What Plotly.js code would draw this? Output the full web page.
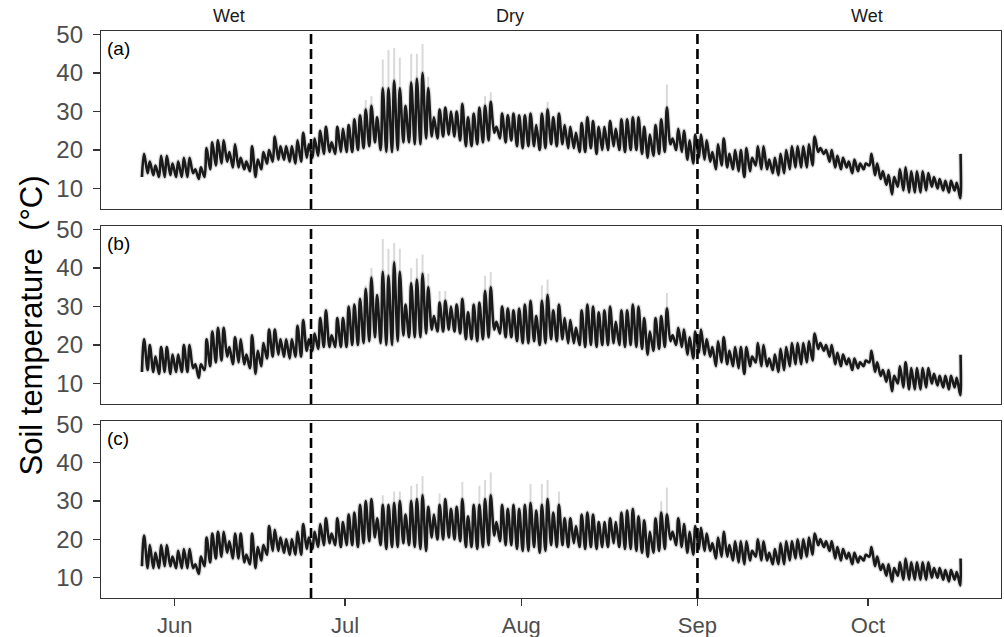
<!DOCTYPE html>
<html><head><meta charset="utf-8">
<script src="https://cdn.plot.ly/plotly-3.0.1.min.js"></script>
<style>html,body{margin:0;padding:0;background:#fff}#chart{width:1004px;height:637px}</style>
</head><body><div id="chart"></div>
<script>
// Daily maxima / minima of soil temperature (°C), day 0 = 26 May
const hiA = [19,17,16,18.5,18.5,16.5,17,18,18,15, 15.5,20.5,22,22.5,22.5,19.5,21.5,18,17,21, 17.5,19.5,20,23.5,21,21,21,22.5,24.5,21.5,
 23,25,26,22,26,25.5,26.5,28,29,30.5, 31.5,28.5,36,36,38,36,31.5,37.5,38.5,40, 36,28.5,30.5,31,30,30,32,28.5,29.5,31,
 31.5,32.5,26,29.5,29,29.5,29,29,29.5,26.5, 29.5,30.5,28.5,29.5,26.5,26,24.5,27,28.5,27.5, 26,26,27.5,25.5,28,28,28.5,28.5,26,24,
 26.5,28,31,23,25.5,25,22.5,24,24,22.5, 19.5,21.5,23,19,20,20,20.5,18,21,21, 17.5,18,19,20,21,21,21,21.5,23.5,20.5,
 20,20,18.5,18,17,17.5,16.5,16.5,19,16.5, 14.5,13.5,13,15,15.5,14.5,14.5,14.5,14,13, 12.5,12,12,11.5];
const loA = [13,14,13.5,13,13,13.5,13,13,13,14, 12.5,13,15,16,16.5,17,15.5,15.5,15,14.5, 13,15,16.5,17,17.5,17.5,17,16.5,17,18,
 18,18.5,19,19.5,19,19.5,19.5,19.5,20,20.5, 21,22,20,19.5,19.5,20,22,22,21.5,21.5, 23,23.5,23,23.5,24,23.5,22.5,21,21,21.5,
 22,22.5,24.5,23,22,22.5,21,20.5,21,21, 20,20.5,21.5,21,21.5,20.5,20.5,19.5,19.5,20.5, 19,20,20,21,20,19.5,20,20,19,18,
 18.5,19,19.5,21.5,20,19.5,17.5,16.5,18,17.5, 17,15,16,15.5,15,14.5,13,14.5,16,15, 15,14,13.5,14,15,15.5,15.5,15.5,16,19.5,
 19,17,15.5,15,15.5,14,14.5,15,16,13.5, 12.5,11,8.5,10.5,9.5,9,9,9,9.5,10.5, 10,9.5,9,9.5,7.5];
const endA = 19;

const hiB = [21.5,20,17,19.5,19.5,17.5,17.5,20,20,15, 15,21.5,23.5,24.5,24.5,19.5,22,21.5,17.5,22.5, 18.5,20.5,24,24,21.5,21.5,21.5,25,26.5,21.5,
 23,27,29,22.5,27,27,30,30.5,32,34.5, 37.5,33,39,38,41.5,39,30.5,36,37,38.5, 35,27.5,31,31.5,30,30.5,32,28.5,30.5,31,
 34,35,26,30,29.5,29,29.5,30.5,31.5,27.5, 31.5,33,29,30.5,27,26.5,24.5,29,30.5,30, 28.5,29,30,26,29,29,30.5,30,27,23.5,
 27,27.5,29.5,22.5,24.5,24,22,23.5,24,21.5, 19.5,21,22,18.5,19.5,19.5,19.5,17,20.5,20, 16.5,17.5,19,19.5,20.5,20.5,20.5,21,23,20.5,
 20,20,18,17.5,16.5,16.5,15.5,16,18.5,15.5, 13.5,13.5,12,14.5,15.5,14,14,14,14,12.5, 12,12,12,11.5];
const loB = [13,13.5,13,12.5,13,12.5,13,13,13,14, 11.5,13.5,14.5,15.5,16,17,15,15.5,15,14, 12.5,14.5,16.5,17,17.5,17,16.5,17,17,18.5,
 18.5,19,19.5,19.5,19.5,19.5,19.5,20,20,20.5, 21,22,20.5,20,20,21,22.5,22,22,22, 23,24,23.5,23.5,24,23.5,23,21.5,21.5,21,
 21.5,22,24,23,22,22,21,20.5,20.5,21, 20,20.5,21.5,21,21.5,20.5,20.5,20,19.5,20, 19.5,20,20,20.5,20,19.5,20,19.5,19,17.5,
 18.5,19,19.5,21,20,19.5,17.5,16.5,18,17.5, 17,14.5,15.5,15,14.5,14,12.5,14.5,15.5,14.5, 14.5,13.5,13,13.5,14.5,15,15,15.5,16,19,
 18.5,17,15,14.5,15,13.5,14,14.5,15.5,13, 12,10.5,8,10,9,8.5,8.5,8.5,9,10, 9.5,9,8.5,9,7];
const endB = 17.5;

const hiC = [21,18.5,16.5,18.5,18.5,15.5,17,17.5,17.5,13.5, 15.5,20.5,21.5,22,22,19.5,21.5,21.5,16,21.5, 18,18.5,23.5,22.5,20.5,20,20,22,24,20.5,
 22,24,25.5,21.5,25.5,24.5,26.5,27,29,30, 30.5,25.5,29,29,29.5,30,26.5,30,30.5,31.5, 28.5,26.5,29,30.5,28,28.5,30.5,26,29,29,
 30.5,31.5,24.5,29,28,29,28,29,29.5,27.5, 29,30.5,27,29,25.5,25.5,23.5,26.5,27,26.5, 24.5,24.5,25.5,24.5,27,27.5,28,26,25,22,
 25.5,27,26.5,22,25.5,24,22,23.5,23,21.5, 19,20.5,22,18.5,19.5,19.5,19.5,17,20,19.5, 16.5,17.5,19,19.5,19.5,20,20,20.5,21.5,20,
 19.5,19.5,18,17.5,16.5,16.5,15.5,16,18,15.5, 13.5,13.5,12.5,14,15,14,14,14,14,12.5, 12.5,12,12,11.5];
const loC = [13,12.5,12.5,12.5,13,13,12.5,12.5,12.5,12.5, 11,13,14,15,15.5,16.5,15,15,14,13.5, 12.5,14.5,16,17,17,16.5,16,16,16,17.5,
 17.5,18,18.5,19,18.5,18,18.5,18.5,18,19, 19.5,20.5,18.5,17.5,18,18,19,18.5,18,17.5, 17,20.5,20,20,20.5,20,19.5,18,18,17.5,
 18,18.5,21,19.5,18.5,18.5,17.5,17,17,18, 16.5,17,18.5,18,18.5,18,19,18,17.5,18, 17.5,18,18,19,18,17.5,17.5,17,16.5,15.5,
 16.5,17,17.5,20,18.5,18,16.5,16,17.5,17, 17,15,15.5,15.5,14.5,14,13.5,14.5,15.5,14.5, 14.5,13.5,13.5,13.5,14.5,15,15,15.5,16,18.5,
 18,17,15,14.5,15,13.5,14,14.5,15.5,13, 12,10.5,9,10.5,9.5,9.5,9.5,9.5,9.5,10, 10,9.5,9,9.5,8];
const endC = 15;

// Upper edge of the grey uncertainty band on days where it shows: [day, °C]
const spikesA = [[39,33],[40,34],[42,43.5],[43,46],[44,46.5],[45,44],[47,45],[48,45],[49,47.5],[50,39],[60,34],[61,35],[71,32.5],[92,37]];
const spikesB = [[39,35.5],[40,40],[42,47.5],[43,45],[44,46.5],[45,45],[47,40],[48,42.5],[49,43.5],[50,38.5],[52,34],[53,34],[60,38],[61,39],[70,35.5],[71,37],[92,33.5]];
const spikesC = [[42,31.5],[44,32.5],[45,32.5],[47,34],[48,34.5],[49,36.5],[52,32],[56,35],[59,34],[60,35.5],[61,37.5],[68,34.5],[70,34.5],[71,35.5],[73,32.5],[91,30],[92,33.5]];

const panelLabels = ['(a)','(b)','(c)'];
const seasonLabels = ['Wet','Dry','Wet'];
const seasonDates = ['2021-06-10 14:00','2021-07-30 02:00','2021-09-30 20:00'];
const seasonBreaks = ['2021-06-25','2021-09-01'];
const monthTicks = ['2021-06-01','2021-07-01','2021-08-01','2021-09-01','2021-10-01'];
const monthLabels = ['Jun','Jul','Aug','Sep','Oct'];
const yTicks = [10,20,30,40,50];

const t0 = Date.UTC(2021,4,26);
function dayToDate(d){ return new Date(t0 + d*86400000).toISOString().slice(0,19).replace('T',' '); }
function buildLine(hi, lo, endVal){
  const x=[], y=[];
  for (let d=0; d<lo.length; d++){
    x.push(dayToDate(d+0.25)); y.push(lo[d]);
    if (d<hi.length){ x.push(dayToDate(d+0.625)); y.push(hi[d]); }
  }
  x.push(dayToDate(lo.length-1+0.3)); y.push(endVal);
  return {x,y};
}
function buildSpikes(spk, hi){
  const x=[], y=[];
  spk.forEach(([d,top])=>{ const xd=dayToDate(d+0.625); x.push(xd,xd,null); y.push(hi[d],top,null); });
  return {x,y};
}

const panels = [
  {hi:hiA, lo:loA, end:endA, spk:spikesA, xa:'x3', ya:'y3'},
  {hi:hiB, lo:loB, end:endB, spk:spikesB, xa:'x2', ya:'y2'},
  {hi:hiC, lo:loC, end:endC, spk:spikesC, xa:'x', ya:'y'}
];
const traces = [];
panels.forEach(p=>{
  const s = buildSpikes(p.spk, p.hi);
  traces.push({x:s.x, y:s.y, xaxis:p.xa, yaxis:p.ya, mode:'lines', line:{color:'rgba(0,0,0,0.15)', width:2}, hoverinfo:'skip', showlegend:false});
  const l = buildLine(p.hi, p.lo, p.end);
  traces.push({x:l.x, y:l.y, xaxis:p.xa, yaxis:p.ya, mode:'lines', line:{color:'rgba(0,0,0,0.12)', width:5, shape:'spline', smoothing:1}, hoverinfo:'skip', showlegend:false});
  traces.push({x:l.x, y:l.y, xaxis:p.xa, yaxis:p.ya, mode:'lines', line:{color:'#1a1a1a', width:2.6, shape:'spline', smoothing:1}, showlegend:false});
});

const FONT = 'Liberation Sans, Arial, Helvetica, sans-serif';
const xRange = ['2021-05-19 01:00','2021-10-24 10:00'];
function xax(showLabels, anchor){
  return {domain:[0,1], anchor:anchor, type:'date', range:xRange, showgrid:false, zeroline:false,
    showline:true, mirror:true, linecolor:'#333333', linewidth:1.2,
    tickvals:monthTicks, ticktext:monthLabels, ticks: showLabels?'outside':'', ticklen:7, tickwidth:1.3, tickcolor:'#333333',
    showticklabels:showLabels, ticklabelstandoff:0, tickfont:{family:FONT, size:22, color:'#4d4d4d'}};
}
function yax(domain, anchor){
  return {domain:domain, anchor:anchor, range:[4.7,50.9], showgrid:false, zeroline:false,
    showline:true, mirror:true, linecolor:'#333333', linewidth:1.2,
    tickvals:yTicks, ticks:'outside', ticklen:7, tickwidth:1.3, tickcolor:'#333333', ticklabelstandoff:5,
    tickfont:{family:FONT, size:24, color:'#4d4d4d'}};
}

const shapes = [];
[['x3','y3'],['x2','y2'],['x','y']].forEach(([xa,ya])=>{
  seasonBreaks.forEach(b=>{
    shapes.push({type:'line', xref:xa, yref:ya+' domain', x0:b, x1:b, y0:0, y1:1, line:{color:'#000', width:2.6, dash:'10px,5px'}});
  });
});

const annotations = [];
[['x3','y3'],['x2','y2'],['x','y']].forEach(([xa,ya],i)=>{
  annotations.push({text:panelLabels[i], xref:xa+' domain', yref:ya+' domain', x:0.004, y:0.9, xanchor:'left', yanchor:'middle', showarrow:false, font:{family:FONT, size:19, color:'#000'}});
});
seasonLabels.forEach((s,i)=>{
  annotations.push({text:s, xref:'x3', yref:'paper', x:seasonDates[i], y:1, yshift:15, xanchor:'center', yanchor:'middle', showarrow:false, font:{family:FONT, size:18, color:'#1a1a1a'}});
});
annotations.push({text:'Soil temperature\u00a0\u00a0(°C)', xref:'paper', yref:'paper', x:-0.077, y:0.48, xanchor:'center', yanchor:'middle', textangle:-90, showarrow:false, font:{family:FONT, size:31, color:'#000'}});

const layout = {
  width:1004, height:637, margin:{l:101, r:3, t:31, b:39}, paper_bgcolor:'#fff', plot_bgcolor:'#fff',
  showlegend:false,
  xaxis: xax(true,'y'), xaxis2: Object.assign(xax(false,'y2'),{matches:'x'}), xaxis3: Object.assign(xax(false,'y3'),{matches:'x'}),
  yaxis: yax([0,0.3122],'x'), yaxis2: yax([0.3422,0.6561],'x2'), yaxis3: yax([0.6861,1],'x3'),
  shapes: shapes, annotations: annotations
};
Plotly.newPlot('chart', traces, layout, {staticPlot:true, displayModeBar:false});
</script></body></html>
